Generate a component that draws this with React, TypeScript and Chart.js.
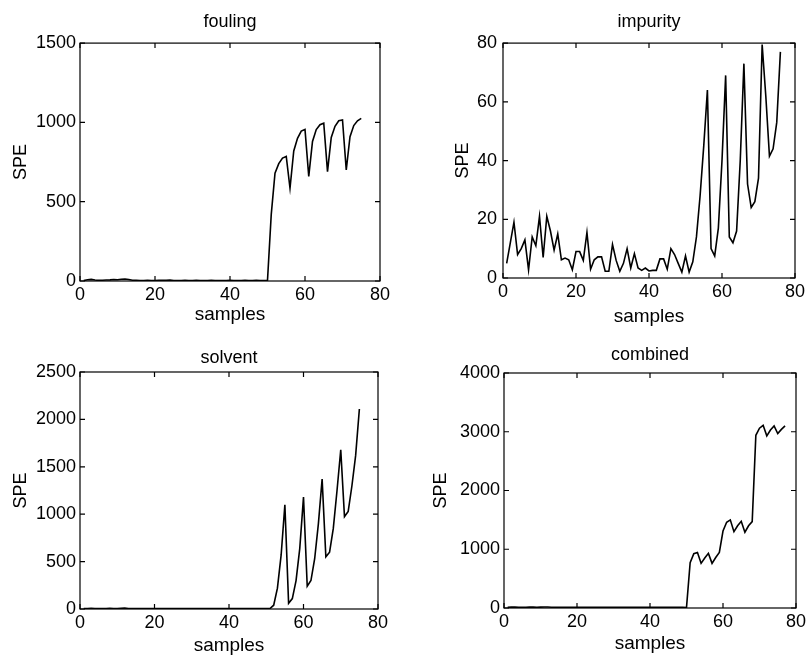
import React, { useEffect, useRef } from "react";
import { Chart, registerables } from "chart.js";

Chart.register(...registerables);
Chart.defaults.font.family = "'Liberation Sans', Arial, Helvetica, sans-serif";
Chart.defaults.color = "#000";

// ---------------- data ----------------
const foulingSPE = [
  3, 8, 10, 6, 4, 5, 6, 7, 9, 8, 11, 13, 9, 5, 4, 3, 3, 4, 3, 3, 4, 5, 4, 6, 3,
  3, 3, 4, 3, 3, 4, 3, 3, 3, 4, 3, 3, 3, 3, 4, 3, 3, 3, 4, 3, 3, 4, 3, 3, 5,
  420, 680, 740, 775, 785, 585, 820, 900, 945, 955, 660, 880, 955, 985, 995,
  690, 905, 975, 1010, 1015, 700, 910, 980, 1010, 1025,
];

const impuritySPE = [
  5, 12, 19, 8, 10, 13, 2.8, 14, 11, 21, 7, 21, 16, 9.5, 15, 6.2, 6.8, 6.2, 2.8,
  9, 9, 6, 15.5, 3, 6.2, 7.2, 7.2, 2.3, 2.3, 11.4, 6, 2.3, 5, 10, 3.4, 8.3, 3.4,
  2.6, 3.4, 2.4, 2.6, 2.6, 6.5, 6.5, 3, 10, 8, 5, 2, 7.5, 2, 5.5, 14, 28, 45, 64,
  10, 7.5, 17, 40, 69, 14, 12, 16, 40, 73, 32, 24, 26, 34, 79.5, 62, 41.5, 44, 53,
  77,
];

const solventSPE = [
  4, 6, 8, 5, 4, 5, 6, 7, 5, 6, 8, 9, 6, 5, 4, 4, 5, 4, 4, 5, 6, 5, 4, 5, 4, 4,
  5, 4, 4, 4, 5, 4, 4, 4, 5, 4, 4, 4, 4, 5, 4, 4, 4, 5, 4, 4, 5, 4, 4, 4,
  5, 40, 220, 570, 1100, 60, 110, 300, 640, 1180, 240, 300, 530, 900, 1370,
  550, 600, 850, 1250, 1680, 975, 1030, 1300, 1620, 2110,
];

const combinedSPE = [
  12, 15, 18, 14, 12, 13, 15, 16, 14, 15, 17, 16, 14, 12, 11, 12, 13, 12, 11,
  12, 13, 12, 11, 12, 11, 11, 12, 11, 11, 11, 12, 11, 11, 11, 12, 11, 11, 11,
  11, 12, 11, 11, 11, 12, 11, 11, 12, 11, 11,
  8, 770, 925, 945, 760, 850, 930, 760, 860, 945, 1310, 1460, 1500, 1300, 1400,
  1475, 1290, 1400, 1470, 2940, 3060, 3110, 2930, 3030, 3100, 2970, 3040, 3100,
];

const sampleTicks = [0, 20, 40, 60, 80];
const foulingTicks = [0, 500, 1000, 1500];
const impurityTicks = [0, 20, 40, 60, 80];
const solventTicks = [0, 500, 1000, 1500, 2000, 2500];
const combinedTicks = [0, 1000, 2000, 3000, 4000];

const panelTitles = ["fouling", "impurity", "solvent", "combined"];
const xLabel = "samples";
const yLabel = "SPE";

// ---------------- layout specs ----------------
type Spec = {
  title: string;
  values: number[];
  yTicks: number[];
  left: number;
  top: number;
  w: number;
  h: number;
  yAxisW: number;
  xAxisH: number;
  padRight: number;
  padBottom: number;
  titlePadTop: number;
  titlePadBottom: number;
  yTitlePad: number;
  yTickPad: number;
  xTitlePadBottom: number;
};

const specs: Spec[] = [
  {
    title: panelTitles[0], values: foulingSPE, yTicks: foulingTicks,
    left: 0, top: 0, w: 405, h: 330,
    yAxisW: 80, xAxisH: 45, padRight: 25, padBottom: 4,
    titlePadTop: 11.5, titlePadBottom: 10, yTitlePad: 10, yTickPad: 4, xTitlePadBottom: 0,
  },
  {
    title: panelTitles[1], values: impuritySPE, yTicks: impurityTicks,
    left: 405, top: 0, w: 405, h: 330,
    yAxisW: 98, xAxisH: 50, padRight: 15, padBottom: 2,
    titlePadTop: 11.5, titlePadBottom: 10, yTitlePad: 47, yTickPad: 6, xTitlePadBottom: 0,
  },
  {
    title: panelTitles[2], values: solventSPE, yTicks: solventTicks,
    left: 0, top: 330, w: 405, h: 325,
    yAxisW: 80, xAxisH: 46, padRight: 27, padBottom: 0,
    titlePadTop: 17, titlePadBottom: 3.4, yTitlePad: 10, yTickPad: 4, xTitlePadBottom: -2,
  },
  {
    title: panelTitles[3], values: combinedSPE, yTicks: combinedTicks,
    left: 405, top: 330, w: 405, h: 325,
    yAxisW: 99, xAxisH: 47, padRight: 14, padBottom: 0,
    titlePadTop: 14, titlePadBottom: 7.4, yTitlePad: 25, yTickPad: 4, xTitlePadBottom: 0,
  },
];

// MATLAB-like frame with inward ticks on all four sides
const framePlugin = {
  id: "matlabFrame",
  afterDraw(chart: any) {
    const { ctx, chartArea: a, scales } = chart;
    ctx.save();
    ctx.strokeStyle = "#000";
    ctx.lineWidth = 1.2;
    ctx.strokeRect(a.left, a.top, a.right - a.left, a.bottom - a.top);
    const tl = 5;
    ctx.beginPath();
    for (const t of scales.x.ticks) {
      const px = scales.x.getPixelForValue(t.value);
      ctx.moveTo(px, a.bottom);
      ctx.lineTo(px, a.bottom - tl);
      ctx.moveTo(px, a.top);
      ctx.lineTo(px, a.top + tl);
    }
    for (const t of scales.y.ticks) {
      const py = scales.y.getPixelForValue(t.value);
      ctx.moveTo(a.left, py);
      ctx.lineTo(a.left + tl, py);
      ctx.moveTo(a.right, py);
      ctx.lineTo(a.right - tl, py);
    }
    ctx.stroke();
    ctx.restore();
  },
};

function Panel({ spec }: { spec: Spec }) {
  const ref = useRef<HTMLCanvasElement>(null);
  useEffect(() => {
    if (!ref.current) return;
    const yT = spec.yTicks;
    const chart = new Chart(ref.current, {
      type: "line",
      data: {
        datasets: [
          {
            data: spec.values.map((v, i) => ({ x: i + 1, y: v })),
            borderColor: "#000",
            borderWidth: 1.6,
            pointRadius: 0,
            tension: 0,
            fill: false,
          },
        ],
      },
      options: {
        responsive: false,
        animation: false,
        events: [],
        layout: {
          padding: { left: 0, top: 0, right: spec.padRight, bottom: spec.padBottom },
        },
        plugins: {
          legend: { display: false },
          tooltip: { enabled: false },
          title: {
            display: true,
            fullSize: false,
            text: spec.title,
            color: "#000",
            font: { size: 18, weight: "normal" },
            padding: { top: spec.titlePadTop, bottom: spec.titlePadBottom },
          },
        },
        scales: {
          x: {
            type: "linear",
            min: sampleTicks[0],
            max: sampleTicks[sampleTicks.length - 1],
            grid: { display: false, drawTicks: false },
            border: { display: false },
            afterBuildTicks: (s: any) => {
              s.ticks = sampleTicks.map((v) => ({ value: v }));
            },
            afterFit: (s: any) => {
              s.height = spec.xAxisH;
            },
            ticks: {
              autoSkip: false,
              maxRotation: 0,
              padding: 3,
              color: "#000",
              font: { size: 18 },
              callback: (v: any) => String(v),
            },
            title: {
              display: true,
              text: xLabel,
              color: "#000",
              font: { size: 19 },
              padding: { top: 0, bottom: spec.xTitlePadBottom },
            },
          },
          y: {
            type: "linear",
            min: yT[0],
            max: yT[yT.length - 1],
            grid: { display: false, drawTicks: false },
            border: { display: false },
            afterBuildTicks: (s: any) => {
              s.ticks = yT.map((v) => ({ value: v }));
            },
            afterFit: (s: any) => {
              s.width = spec.yAxisW;
            },
            ticks: {
              autoSkip: false,
              padding: spec.yTickPad,
              color: "#000",
              font: { size: 18 },
              callback: (v: any) => String(v),
            },
            title: {
              display: true,
              text: yLabel,
              color: "#000",
              font: { size: 18 },
              padding: { top: spec.yTitlePad, bottom: 0 },
            },
          },
        },
      },
      plugins: [framePlugin],
    } as any);
    return () => chart.destroy();
  }, [spec]);
  return (
    <canvas
      ref={ref}
      width={spec.w}
      height={spec.h}
      style={{ position: "absolute", left: spec.left, top: spec.top, width: spec.w, height: spec.h }}
    />
  );
}

export default function App() {
  return (
    <div
      style={{
        position: "absolute",
        left: 0,
        top: 0,
        width: 810,
        height: 655,
        background: "#fff",
        overflow: "hidden",
      }}
    >
      {specs.map((s) => (
        <Panel key={s.title} spec={s} />
      ))}
    </div>
  );
}
